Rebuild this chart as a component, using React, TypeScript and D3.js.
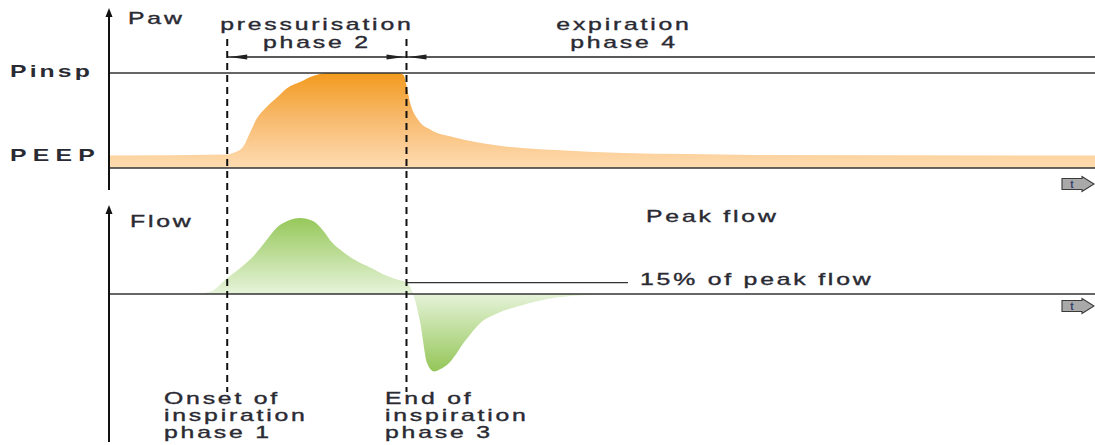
import React from "react";
import * as d3 from "d3";

// Time base (arbitrary units, 0..100 across the plot)
const pressureTime = [0, 11.9, 12.5, 13.5, 14.2, 14.9, 15.9, 17.0, 18.0, 19.3, 20.6, 22.0, 29.2, 29.8, 30.1, 30.4, 31.3, 32.6, 34.8, 37.1, 40.7, 45.2, 52.0, 58.7, 65.5, 100];
// Airway pressure, % of Pinsp
const pressureValue = [13.2, 14.2, 15.8, 22, 36.8, 52, 64.2, 74.7, 84.2, 90.5, 96.8, 100, 100, 98, 87, 71.6, 50.5, 40, 32.6, 27.4, 22.1, 18.9, 15.8, 14.7, 13.7, 13.2];

const flowTime = [0, 8.6, 9.4, 10.5, 11.9, 13.2, 14.5, 15.9, 17.0, 18.0, 19.3, 20.6, 21.6, 22.6, 23.7, 25.1, 26.4, 28.1, 29.4, 30.1, 30.8, 31.5, 32.2, 32.9, 33.5, 34.4, 36.1, 37.6, 39.4, 42.0, 45.2, 48.8, 50.8];
// Flow, % of peak flow
const flowValue = [0, 0, 1, 5, 21, 34, 49, 71, 88, 96, 100, 96, 84, 67, 55, 43, 35, 24, 18, 15, -1, -38, -91, -102, -99, -91, -61, -38, -25, -14, -5, -1, 0];

const PINSP = 100;
const CYCLE_THRESHOLD = 15; // % of peak flow
const ONSET_T = 11.9;
const END_T = 30.1;

const pressureLabels = ["Pinsp", "PEEP"];
const phaseTopLabels = [
  ["pressurisation", "phase 2"],
  ["expiration", "phase 4"],
];
const phaseBottomLabels = [
  ["Onset of", "inspiration", "phase 1"],
  ["End of", "inspiration", "phase 3"],
];

const W = 1095;
const H = 445;
const FONT = "'Liberation Sans', Arial, Helvetica, sans-serif";
const SX = 1.55;
const TEXT = "#2a2a33";
const LINE = "#333";

function Label({ x, y, children, anchor = "start", size = 16, weight = "normal", ls = 1.8, color = TEXT }: any) {
  return (
    <text
      transform={`translate(${x},${y}) scale(${SX},1)`}
      textAnchor={anchor}
      fontFamily={FONT}
      fontSize={size}
      fontWeight={weight}
      letterSpacing={ls}
      fill={color}
      stroke={weight === "normal" ? color : "none"}
      strokeWidth={0.35}
    >
      {children}
    </text>
  );
}

function TimeArrow({ cy }: { cy: number }) {
  const x0 = 1062, x1 = 1082, x2 = 1094;
  const d = `M${x0},${cy - 5.5}L${x1},${cy - 5.5}L${x1},${cy - 7.5}L${x2},${cy}L${x1},${cy + 7.5}L${x1},${cy + 5.5}L${x0},${cy + 5.5}Z`;
  return (
    <g>
      <path d={d} fill="#a9a9a9" stroke="#3a3a3a" strokeWidth={1.1} />
      <text x={1072} y={cy + 3.5} fontFamily={FONT} fontSize={10} fontWeight="bold" fill="#33406a" textAnchor="middle">t</text>
    </g>
  );
}

export default function App() {
  const x = d3.scaleLinear().domain([0, 100]).range([110, 1095]);
  const yP = d3.scaleLinear().domain([0, 100]).range([168, 73]);
  const yF = d3.scaleLinear().domain([-100, 100]).range([370, 218]);

  const pData = pressureTime.map((t, i) => [t, pressureValue[i]] as [number, number]);
  const fData = flowTime.map((t, i) => [t, flowValue[i]] as [number, number]);

  const pArea = d3.area<[number, number]>()
    .x((d) => x(d[0]))
    .y0(yP(0))
    .y1((d) => yP(d[1]))
    .curve(d3.curveMonotoneX);

  const fArea = d3.area<[number, number]>()
    .x((d) => x(d[0]))
    .y0(yF(0))
    .y1((d) => yF(d[1]))
    .curve(d3.curveMonotoneX);

  const xOn = x(ONSET_T);
  const xEnd = x(END_T);
  const arrowY = 57;

  const head = (tipX: number, dir: number, y: number) =>
    `M${tipX},${y}L${tipX + dir * 18},${y - 2.6}L${tipX + dir * 18},${y + 2.6}Z`;

  const axisTop = { top: 8, bottom: 190 };
  const axisBot = { top: 205, bottom: 442 };

  return (
    <svg width={W} height={H} style={{ position: "absolute", left: 0, top: 0, background: "#fff" }}>
      <defs>
        <linearGradient id="pGrad" gradientUnits="userSpaceOnUse" x1="0" y1={yP(PINSP)} x2="0" y2={yP(0)}>
          <stop offset="0" stopColor="#f39a1e" />
          <stop offset="0.5" stopColor="#f8bb70" />
          <stop offset="1" stopColor="#fedcb2" />
        </linearGradient>
        <linearGradient id="fGrad" gradientUnits="userSpaceOnUse" x1="0" y1={yF(100)} x2="0" y2={yF(-102)}>
          <stop offset="0" stopColor="#96c85a" />
          <stop offset="0.49" stopColor="#e6f3d9" />
          <stop offset="1" stopColor="#94c658" />
        </linearGradient>
      </defs>

      {/* Pressure panel */}
      <path d={pArea(pData) || ""} fill="url(#pGrad)" />
      <line x1={109} x2={W} y1={yP(PINSP)} y2={yP(PINSP)} stroke={LINE} strokeWidth={1.3} />
      <line x1={109} x2={W} y1={yP(0)} y2={yP(0)} stroke={LINE} strokeWidth={1.3} />
      <line x1={109} x2={109} y1={axisTop.top + 6} y2={axisTop.bottom} stroke="#111" strokeWidth={2} />
      <path d={`M109,${axisTop.top}L105.5,${axisTop.top + 9}L112.5,${axisTop.top + 9}Z`} fill="#111" />
      <Label x={128} y={24}>Paw</Label>
      <Label x={10} y={77} size={16} weight="bold" ls={2}>{pressureLabels[0]}</Label>
      <Label x={10} y={161} size={16} weight="bold" ls={4}>{pressureLabels[1]}</Label>
      <TimeArrow cy={184} />

      {/* Phase span arrows */}
      <line x1={xOn} x2={W} y1={arrowY} y2={arrowY} stroke="#222" strokeWidth={1.3} />
      <path d={head(xOn + 2, 1, arrowY)} fill="#222" />
      <path d={head(xEnd - 2, -1, arrowY)} fill="#222" />
      <path d={head(xEnd + 2, 1, arrowY)} fill="#222" />
      <Label x={(xOn + xEnd) / 2} y={30} anchor="middle">{phaseTopLabels[0][0]}</Label>
      <Label x={(xOn + xEnd) / 2} y={48} anchor="middle">{phaseTopLabels[0][1]}</Label>
      <Label x={624} y={30} anchor="middle">{phaseTopLabels[1][0]}</Label>
      <Label x={624} y={48} anchor="middle">{phaseTopLabels[1][1]}</Label>

      {/* Flow panel */}
      <path d={fArea(fData) || ""} fill="url(#fGrad)" />
      <line x1={109} x2={W} y1={yF(0)} y2={yF(0)} stroke={LINE} strokeWidth={1.3} />
      <line x1={xEnd} x2={628} y1={yF(CYCLE_THRESHOLD)} y2={yF(CYCLE_THRESHOLD)} stroke={LINE} strokeWidth={1.3} />
      <line x1={109} x2={109} y1={axisBot.top + 6} y2={axisBot.bottom} stroke="#111" strokeWidth={2} />
      <path d={`M109,${axisBot.top}L105.5,${axisBot.top + 9}L112.5,${axisBot.top + 9}Z`} fill="#111" />
      <Label x={130} y={227}>Flow</Label>
      <Label x={646} y={222}>Peak flow</Label>
      <Label x={640} y={285}>15% of peak flow</Label>
      <TimeArrow cy={306} />

      {/* Phase boundaries */}
      <line x1={xOn} x2={xOn} y1={39} y2={392} stroke="#111" strokeWidth={2} strokeDasharray="7,5" />
      <line x1={xEnd} x2={xEnd} y1={39} y2={392} stroke="#111" strokeWidth={2} strokeDasharray="7,5" />

      {phaseBottomLabels.map((lines, i) =>
        lines.map((s, j) => (
          <Label key={`${i}-${j}`} x={i === 0 ? 164 : 385} y={404 + j * 17}>{s}</Label>
        ))
      )}
    </svg>
  );
}
